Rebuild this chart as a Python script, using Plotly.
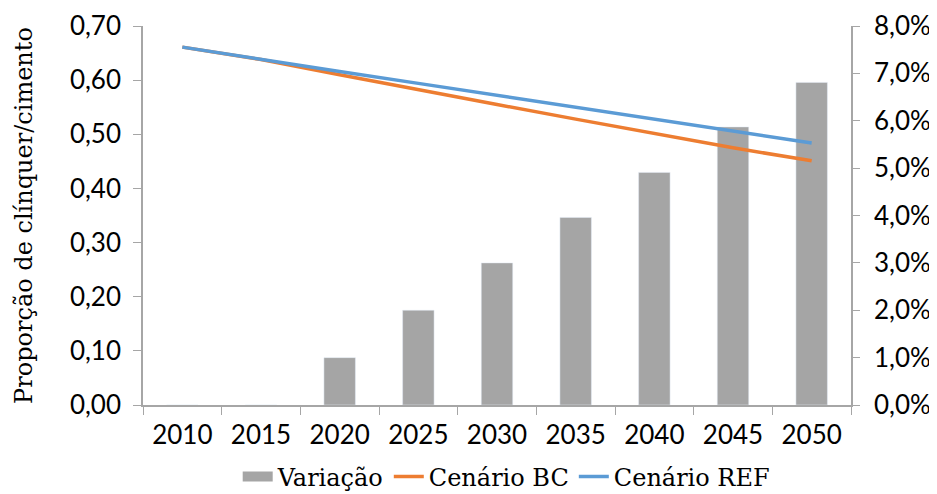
import plotly.graph_objects as go

years = ["2010", "2015", "2020", "2025", "2030", "2035", "2040", "2045", "2050"]
variacao = [0.0, 0.0, 0.010, 0.020, 0.030, 0.0396, 0.0491, 0.0587, 0.0681]
cenario_bc = [0.661, 0.638, 0.610, 0.582, 0.555, 0.528, 0.502, 0.475, 0.451]
cenario_ref = [0.661, 0.638, 0.616, 0.594, 0.572, 0.550, 0.528, 0.505, 0.484]

axis_color = "#A6A6A6"
bar_color = "#A5A5A5"
ytick_font = dict(family="Lato", size=26, color="#000000")
xtick_font = dict(family="Lato", size=26, color="#000000")
title_font = dict(family="DejaVu Serif", size=24, color="#000000")
legend_font = dict(family="DejaVu Serif", size=24, color="#000000")

fig = go.Figure()
fig.add_trace(go.Bar(x=years, y=variacao, name="Variação", marker_color=bar_color,
                     yaxis="y", showlegend=False))
# legend entry drawn as a wide gray block, like the original
fig.add_trace(go.Scatter(x=[None], y=[None], name="Variação", mode="lines",
                         line=dict(color=bar_color, width=14), yaxis="y"))
fig.add_trace(go.Scatter(x=years, y=cenario_bc, name="Cenário BC", mode="lines",
                         line=dict(color="#ED7D31", width=3.5), yaxis="y2"))
fig.add_trace(go.Scatter(x=years, y=cenario_ref, name="Cenário REF", mode="lines",
                         line=dict(color="#5B9BD5", width=3.5), yaxis="y2"))

fig.update_layout(
    width=929, height=486,
    margin=dict(l=135, r=86, t=18, b=89, autoexpand=False),
    paper_bgcolor="white", plot_bgcolor="white",
    separators=",.",
    bargap=0.6,
    xaxis=dict(type="category", tickson="boundaries", ticks="outside", ticklen=8,
               tickcolor=axis_color, showline=True, linecolor=axis_color, linewidth=1.5,
               showgrid=False, tickfont=xtick_font, range=[-0.5, 8.5], automargin=False,
               ticklabelstandoff=6),
    yaxis=dict(side="right", range=[0, 0.08], dtick=0.01, tickformat=".1%",
               ticks="outside", ticklen=7, tickcolor=axis_color, showline=True,
               linecolor=axis_color, linewidth=1.5, showgrid=False, zeroline=False,
               tickfont=ytick_font, automargin=False, ticklabelstandoff=9),
    yaxis2=dict(side="left", overlaying="y", range=[0, 0.70], dtick=0.1, tickformat=".2f",
                ticks="outside", ticklen=8, tickcolor=axis_color, showline=True,
                linecolor=axis_color, linewidth=1.5, showgrid=False, zeroline=False,
                tickfont=ytick_font, automargin=False, ticklabelstandoff=7,
                title=dict(text="Proporção de clínquer/cimento", font=title_font, standoff=30)),
    legend=dict(orientation="h", x=0.513, xanchor="center", xref="paper",
                y=-0.19, yanchor="middle", yref="paper", font=legend_font,
                traceorder="normal"),
    showlegend=True,
)

fig.write_html("out.html")
